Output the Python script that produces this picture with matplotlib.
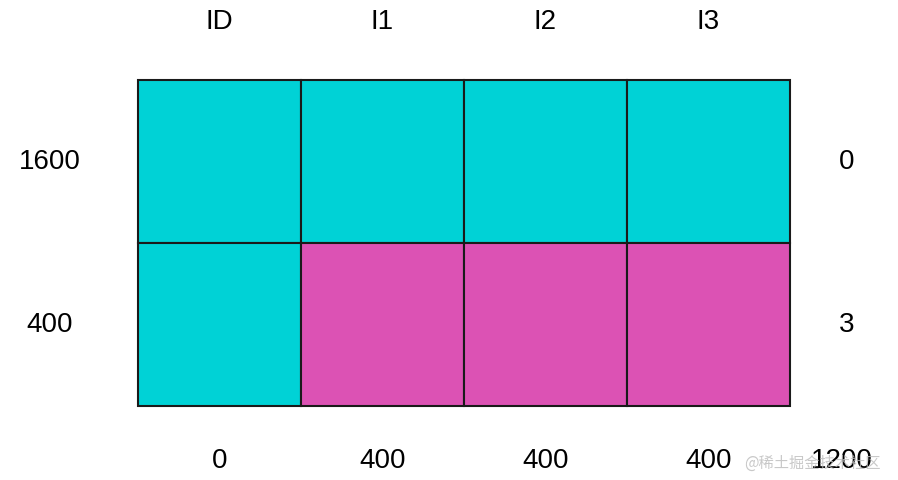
import matplotlib
matplotlib.use("Agg")
import matplotlib.pyplot as plt
import numpy as np

plt.rcParams["font.family"] = ["Liberation Sans", "DejaVu Sans"]

col_labels = ["ID", "I1", "I2", "I3"]
row_labels = ["1600", "400"]
right_labels = ["0", "3"]
bottom_labels = ["0", "400", "400", "400"]
bottom_total = "1200"
# 0 = cyan, 1 = magenta
cells = np.array([[0, 0, 0, 0],
                  [0, 1, 1, 1]])
colors = ["#00D2D6", "#DC52B4"]

W, H = 898, 481
fig = plt.figure(figsize=(W / 100, H / 100), dpi=100)
ax = fig.add_axes([0, 0, 1, 1])
ax.set_xlim(0, W)
ax.set_ylim(H, 0)
ax.axis("off")

x0, x1, y0, y1 = 138, 790, 81, 407
cw = (x1 - x0) / cells.shape[1]
ch = (y1 - y0) / cells.shape[0]
for r in range(cells.shape[0]):
    for c in range(cells.shape[1]):
        ax.add_patch(plt.Rectangle((x0 + c * cw, y0 + r * ch), cw, ch,
                                   facecolor=colors[cells[r, c]],
                                   edgecolor="#1a1a1a", linewidth=1.5))

fs = 20
for c, lab in enumerate(col_labels):
    ax.text(x0 + (c + 0.5) * cw, 22, lab, ha="center", va="center", fontsize=fs)
    ax.text(x0 + (c + 0.5) * cw, 461, bottom_labels[c], ha="center", va="center", fontsize=fs)
ax.text(842, 461, bottom_total, ha="center", va="center", fontsize=fs)
for r, lab in enumerate(row_labels):
    ax.text(50, y0 + (r + 0.5) * ch, lab, ha="center", va="center", fontsize=fs)
    ax.text(847, y0 + (r + 0.5) * ch, right_labels[r], ha="center", va="center", fontsize=fs)

ax.text(812, 463, "@稀土掘金技术社区", ha="center", va="center", fontsize=11,
        color="#bbbbbb", alpha=0.8, family=["Noto Sans CJK SC", "DejaVu Sans"])

fig.savefig("out.png", dpi=100, facecolor="white")
